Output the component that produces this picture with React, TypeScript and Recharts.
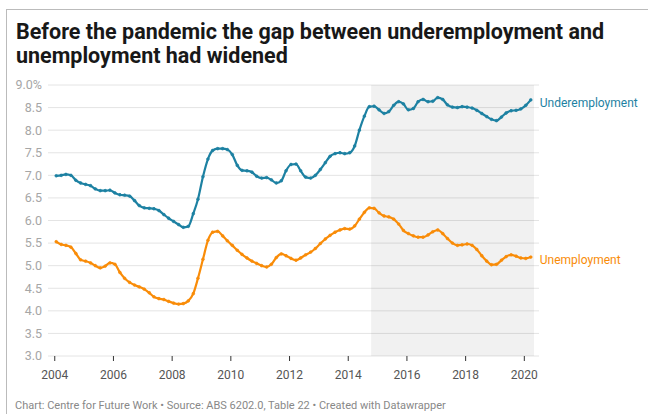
import React from "react";
import { LineChart, Line, XAxis, YAxis, CartesianGrid, ReferenceArea } from "recharts";

const years = [
  2004.05, 2004.22, 2004.38, 2004.55, 2004.72, 2004.88,
  2005.05, 2005.22, 2005.38, 2005.55, 2005.72, 2005.88,
  2006.05, 2006.22, 2006.38, 2006.55, 2006.72, 2006.88,
  2007.05, 2007.22, 2007.38, 2007.55, 2007.72, 2007.88,
  2008.05, 2008.22, 2008.38, 2008.55, 2008.72, 2008.88,
  2009.05, 2009.22, 2009.38, 2009.55, 2009.72, 2009.88,
  2010.05, 2010.22, 2010.38, 2010.55, 2010.72, 2010.88,
  2011.05, 2011.22, 2011.38, 2011.55, 2011.72, 2011.88,
  2012.05, 2012.22, 2012.38, 2012.55, 2012.72, 2012.88,
  2013.05, 2013.22, 2013.38, 2013.55, 2013.72, 2013.88,
  2014.05, 2014.22, 2014.38, 2014.55, 2014.72, 2014.88,
  2015.05, 2015.22, 2015.38, 2015.55, 2015.72, 2015.88,
  2016.05, 2016.22, 2016.38, 2016.55, 2016.72, 2016.88,
  2017.05, 2017.22, 2017.38, 2017.55, 2017.72, 2017.88,
  2018.05, 2018.22, 2018.38, 2018.55, 2018.72, 2018.88,
  2019.05, 2019.22, 2019.38, 2019.55, 2019.72, 2019.88,
  2020.05, 2020.22,
];

const underemployment = [
  6.99, 7.0, 7.02, 7.0, 6.89, 6.83,
  6.8, 6.77, 6.7, 6.66, 6.66, 6.67,
  6.61, 6.57, 6.56, 6.54, 6.44, 6.33,
  6.28, 6.27, 6.26, 6.22, 6.13, 6.05,
  5.98, 5.91, 5.85, 5.87, 6.15, 6.47,
  6.97, 7.36, 7.55, 7.59, 7.59, 7.57,
  7.46, 7.22, 7.11, 7.1, 7.07, 6.98,
  6.94, 6.95, 6.9, 6.83, 6.88, 7.1,
  7.24, 7.25, 7.1, 6.96, 6.94, 7.0,
  7.13, 7.28, 7.42, 7.48, 7.5, 7.48,
  7.5, 7.65, 8.0, 8.31, 8.52, 8.53,
  8.45, 8.37, 8.41, 8.55, 8.63, 8.58,
  8.45, 8.48, 8.63, 8.68, 8.63, 8.64,
  8.72, 8.68, 8.56, 8.51, 8.5, 8.52,
  8.51, 8.49, 8.44, 8.37, 8.3, 8.24,
  8.21, 8.29, 8.38, 8.43, 8.44, 8.47,
  8.55, 8.67,
];

const unemployment = [
  5.53, 5.47, 5.45, 5.41, 5.27, 5.13,
  5.1, 5.06, 5.0, 4.95, 4.99, 5.06,
  5.03, 4.85, 4.72, 4.63, 4.57, 4.53,
  4.48, 4.4, 4.31, 4.27, 4.25, 4.21,
  4.17, 4.15, 4.16, 4.22, 4.38, 4.72,
  5.14, 5.56, 5.74, 5.76, 5.66, 5.55,
  5.45, 5.34, 5.25, 5.17, 5.1, 5.05,
  5.0, 4.97, 5.03, 5.18, 5.26, 5.22,
  5.16, 5.12, 5.17, 5.24, 5.3, 5.38,
  5.49, 5.59, 5.67, 5.74, 5.79, 5.82,
  5.81, 5.88, 6.03, 6.18, 6.28, 6.27,
  6.17, 6.1, 6.08, 6.03, 5.92, 5.78,
  5.71, 5.66, 5.63, 5.63, 5.68, 5.75,
  5.79, 5.71, 5.6, 5.5, 5.45, 5.46,
  5.48, 5.45, 5.36, 5.22, 5.1, 5.02,
  5.03, 5.12, 5.2, 5.24, 5.21, 5.17,
  5.16, 5.19,
];

const xTicks = [2004, 2006, 2008, 2010, 2012, 2014, 2016, 2018, 2020];
const yTicks = [3, 3.5, 4, 4.5, 5, 5.5, 6, 6.5, 7, 7.5, 8, 8.5, 9];
const yTickLabels = ["3.0", "3.5", "4.0", "4.5", "5.0", "5.5", "6.0", "6.5", "7.0", "7.5", "8.0", "8.5", "9.0%"];
const shadeStart = 2014.78;
const shadeEnd = 2020.33;

const seriesNames = ["Underemployment", "Unemployment"];
const TEAL = "#1d81a2";
const ORANGE = "#f98c08";

const rows = years.map((y, i) => ({ year: y, under: underemployment[i], unemp: unemployment[i] }));

const FONT = "Roboto, 'Noto Sans', sans-serif";

const YTick = (props: any) => {
  const { y, payload } = props;
  const idx = yTicks.indexOf(payload.value);
  return (
    <text x={42} y={y} dy="0.35em" textAnchor="end" fill="#a6a6a6" fontSize={12.5} fontFamily={FONT}>
      {idx >= 0 ? yTickLabels[idx] : payload.value}
    </text>
  );
};

const makeLabel = (name: string, color: string) => (props: any) => {
  const { x, y, index } = props;
  if (index !== years.length - 1) return null;
  return (
    <text x={x + 9} y={y + 3} dy="0.35em" fill={color} fontSize={12} fontFamily={FONT}>
      {name}
    </text>
  );
};

export default function App() {
  return (
    <div style={{ position: "absolute", left: 0, top: 0, width: 648, height: 414, overflow: "hidden", background: "#fff", fontFamily: FONT }}>
      <div
        style={{
          position: "absolute",
          left: 6,
          top: 9,
          width: 700,
          height: 500,
          borderTop: "1px solid #bbbbbb",
          borderLeft: "1px solid #bbbbbb",
        }}
      />
      <div
        style={{
          position: "absolute",
          left: 16,
          top: 20,
          width: 625,
          fontSize: 21.5,
          lineHeight: "24px",
          fontWeight: 700,
          color: "#181818",
          fontFamily: FONT,
        }}
      >
        Before the pandemic the gap between underemployment and unemployment had widened
      </div>
      <div style={{ position: "absolute", left: 0, top: 0 }}>
        <LineChart width={648} height={414} data={rows} margin={{ top: 85, right: 109, bottom: 28, left: 0 }}>
          <ReferenceArea x1={shadeStart} x2={shadeEnd} y1={3} y2={9} fill="#000" fillOpacity={0.053} stroke="none" ifOverflow="hidden" />
          <CartesianGrid vertical={false} stroke="#e4e4e4" strokeWidth={1} />
          <XAxis
            type="number"
            dataKey="year"
            domain={[2003.77, 2020.5]}
            ticks={xTicks}
            allowDataOverflow
            axisLine={false}
            tickLine={{ stroke: "#333" }}
            tickSize={5}
            tickMargin={9}
            height={30}
            tick={{ fill: "#555", fontSize: 12, fontFamily: FONT }}
            interval={0}
          />
          <YAxis
            type="number"
            domain={[3, 9]}
            ticks={yTicks}
            width={48}
            axisLine={false}
            tickLine={false}
            tick={<YTick />}
            interval={0}
          />
          <Line
            dataKey="under"
            type="monotone"
            stroke={TEAL}
            strokeWidth={2.2}
            dot={{ r: 1.4, fill: TEAL, stroke: TEAL, strokeWidth: 0.6 }}
            activeDot={false}
            isAnimationActive={false}
            label={makeLabel(seriesNames[0], TEAL)}
          />
          <Line
            dataKey="unemp"
            type="monotone"
            stroke={ORANGE}
            strokeWidth={2.2}
            dot={{ r: 1.4, fill: ORANGE, stroke: ORANGE, strokeWidth: 0.6 }}
            activeDot={false}
            isAnimationActive={false}
            label={makeLabel(seriesNames[1], ORANGE)}
          />
        </LineChart>
      </div>
      <div
        style={{
          position: "absolute",
          left: 15,
          top: 399,
          fontSize: 11,
          lineHeight: "14px",
          color: "#888",
          fontFamily: FONT,
          whiteSpace: "nowrap",
        }}
      >
        Chart: Centre for Future Work • Source: ABS 6202.0, Table 22 • Created with Datawrapper
      </div>
    </div>
  );
}
